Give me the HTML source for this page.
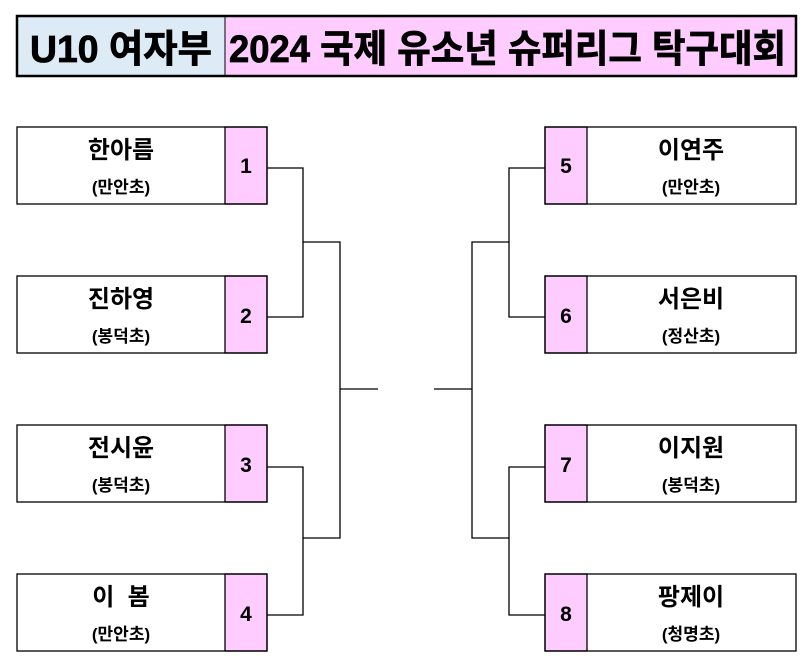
<!DOCTYPE html>
<html><head><meta charset="utf-8"><style>
body{margin:0;background:#fff}
svg{display:block}
text{font-family:"Liberation Sans","Noto Sans CJK KR",sans-serif;font-weight:bold;fill:#000}
</style></head><body>
<svg width="812" height="668" viewBox="0 0 812 668" xmlns="http://www.w3.org/2000/svg">
<rect x="17" y="16" width="208" height="60" fill="#ddebf7"/>
<rect x="225" y="16" width="571" height="60" fill="#ffccff"/>
<rect x="17" y="16" width="779" height="60" fill="none" stroke="#000" stroke-width="2.5"/>
<line x1="225" y1="16" x2="225" y2="76" stroke="#000" stroke-width="1"/>
<text x="30" y="62" font-size="38" font-weight="900" textLength="182" lengthAdjust="spacingAndGlyphs" stroke="#000" stroke-width="0.8">U10 여자부</text>
<text x="229" y="62" font-size="38" font-weight="900" textLength="557" lengthAdjust="spacingAndGlyphs" stroke="#000" stroke-width="0.8">2024 국제 유소년 슈퍼리그 탁구대회</text>
<g stroke="#000" stroke-width="1.3" fill="none">
<rect x="225" y="127" width="42" height="77" fill="#ffccff"/><rect x="17" y="127" width="250" height="77"/>
<rect x="225" y="276" width="42" height="77" fill="#ffccff"/><rect x="17" y="276" width="250" height="77"/>
<rect x="225" y="425" width="42" height="77" fill="#ffccff"/><rect x="17" y="425" width="250" height="77"/>
<rect x="225" y="574" width="42" height="77" fill="#ffccff"/><rect x="17" y="574" width="250" height="77"/>
<rect x="545" y="127" width="42" height="77" fill="#ffccff"/><rect x="545" y="127" width="251" height="77"/>
<rect x="545" y="276" width="42" height="77" fill="#ffccff"/><rect x="545" y="276" width="251" height="77"/>
<rect x="545" y="425" width="42" height="77" fill="#ffccff"/><rect x="545" y="425" width="251" height="77"/>
<rect x="545" y="574" width="42" height="77" fill="#ffccff"/><rect x="545" y="574" width="251" height="77"/>
<polyline points="267,168 303,168 303,317 267,317"/>
<polyline points="267,467 303,467 303,615 267,615"/>
<polyline points="303,242 340,242 340,538 303,538"/>
<line x1="340" y1="389" x2="378" y2="389"/>
<polyline points="545,168 509,168 509,317 545,317"/>
<polyline points="545,467 509,467 509,615 545,615"/>
<polyline points="509,242 472,242 472,538 509,538"/>
<line x1="472" y1="389" x2="434" y2="389"/>
</g>
<g font-size="21" text-anchor="middle">
<text x="246" y="173">1</text><text x="246" y="323">2</text><text x="246" y="472">3</text><text x="246" y="621">4</text>
<text x="566" y="173">5</text><text x="566" y="323">6</text><text x="566" y="472">7</text><text x="566" y="621">8</text>
</g>
<g font-size="24" text-anchor="middle">
<text x="121" y="158">한아름</text><text x="121" y="307">진하영</text><text x="121" y="456">전시윤</text><text x="121" y="605" xml:space="preserve">이  봄</text>
<text x="691" y="158">이연주</text><text x="691" y="307">서은비</text><text x="691" y="456">이지원</text><text x="691" y="605">팡제이</text>
</g>
<g font-size="17" text-anchor="middle">
<text x="121" y="193">(만안초)</text><text x="121" y="342">(봉덕초)</text><text x="121" y="491">(봉덕초)</text><text x="121" y="640">(만안초)</text>
<text x="691" y="193">(만안초)</text><text x="691" y="342">(정산초)</text><text x="691" y="491">(봉덕초)</text><text x="691" y="640">(청명초)</text>
</g>
</svg>
</body></html>
